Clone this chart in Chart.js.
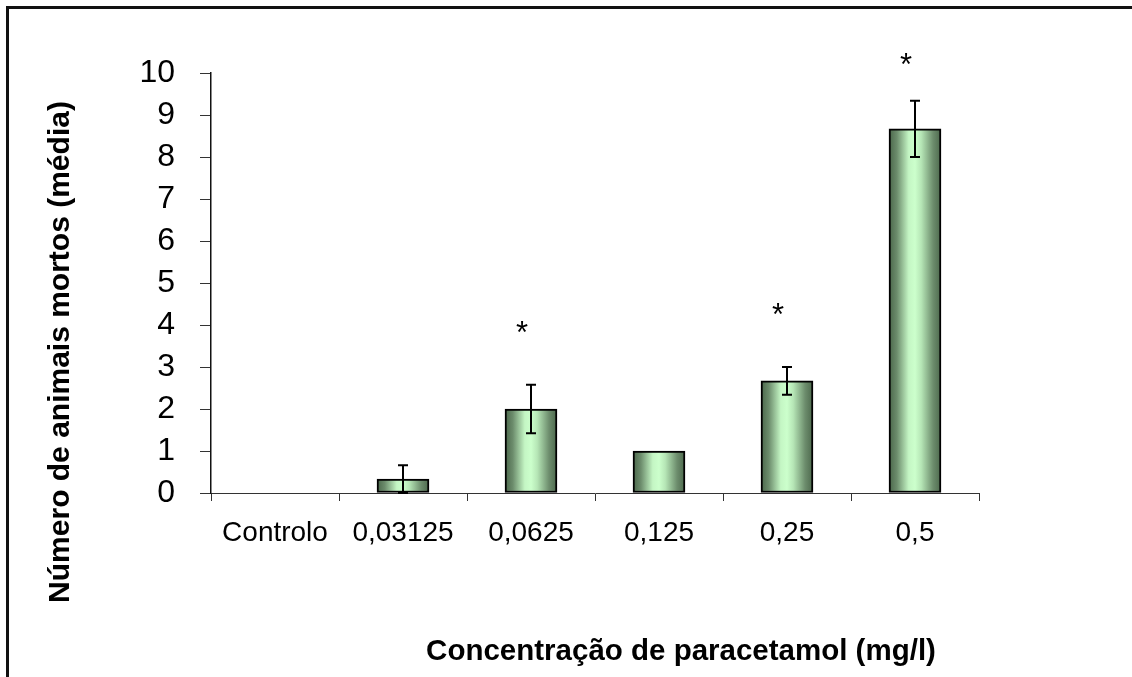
<!DOCTYPE html>
<html>
<head>
<meta charset="utf-8">
<script src="https://cdn.jsdelivr.net/npm/chart.js@4.4.1/dist/chart.umd.min.js"></script>
<style>
  html, body { margin: 0; padding: 0; background: #fff; }
  #wrap { position: relative; width: 1132px; height: 677px; overflow: hidden; }
  #frame { position: absolute; left: 6px; top: 6px; right: -10px; bottom: -10px;
           border-top: 3px solid #111; border-left: 3px solid #111; }
  #c { position: absolute; left: 0; top: 0; }
</style>
</head>
<body>
<div id="wrap">
  <div id="frame"></div>
  <canvas id="c" width="1132" height="677"></canvas>
</div>
<script>
// ---- data ----
const categories = ["Controlo", "0,03125", "0,0625", "0,125", "0,25", "0,5"];
const meanDeaths = [0, 0.33, 2, 1, 2.67, 8.67];
const errorDeaths = [0, 0.33, 0.58, 0, 0.33, 0.67];
const significance = ["", "", "*", "", "*", "*"];
const yTicks = [0, 1, 2, 3, 4, 5, 6, 7, 8, 9, 10];
const yTitle = "Número de animais mortos (média)";
const xTitle = "Concentração de paracetamol (mg/l)";

const FONT = "'Liberation Sans', Arial, sans-serif";

function barGradient(ctx) {
  const chart = ctx.chart;
  const xs = chart.scales && chart.scales.x;
  if (!xs || ctx.dataIndex === undefined) return '#a8d8a8';
  const cx = xs.getPixelForValue(ctx.dataIndex);
  if (!isFinite(cx)) return '#a8d8a8';
  const half = 26;
  const g = chart.ctx.createLinearGradient(cx - half, 0, cx + half, 0);
  g.addColorStop(0, '#4a664a');
  g.addColorStop(0.15, '#6c8c6c');
  g.addColorStop(0.38, '#c4f6c4');
  g.addColorStop(0.5, '#ccffcc');
  g.addColorStop(0.62, '#b6e6b6');
  g.addColorStop(0.85, '#6c8c6c');
  g.addColorStop(1, '#4c684c');
  return g;
}

const errorBarPlugin = {
  id: 'errorBars',
  afterDatasetsDraw(chart) {
    const {ctx, scales: {x, y}} = chart;
    ctx.save();
    ctx.strokeStyle = '#000';
    ctx.lineWidth = 2;
    meanDeaths.forEach((v, i) => {
      const e = errorDeaths[i];
      if (!e) return;
      const px = Math.round(x.getPixelForValue(i));
      const top = y.getPixelForValue(v + e);
      const bot = y.getPixelForValue(Math.max(0, v - e));
      ctx.beginPath();
      ctx.moveTo(px, top); ctx.lineTo(px, bot);
      ctx.moveTo(px - 5, top); ctx.lineTo(px + 5, top);
      ctx.moveTo(px - 5, bot); ctx.lineTo(px + 5, bot);
      ctx.stroke();
    });
    // significance marks
    ctx.fillStyle = '#000';
    ctx.font = "31px " + FONT;
    ctx.textAlign = 'center';
    ctx.textBaseline = 'alphabetic';
    significance.forEach((s, i) => {
      if (!s) return;
      const px = x.getPixelForValue(i) - 9;
      const errTop = y.getPixelForValue(meanDeaths[i] + errorDeaths[i]);
      const cy = Math.max(errTop - 55, chart.chartArea.top - 11);
      ctx.fillText(s, px, cy + 13);
    });
    ctx.restore();
  }
};

const axisTitlePlugin = {
  id: 'axisTitles',
  afterDraw(chart) {
    const {ctx} = chart;
    ctx.save();
    ctx.fillStyle = '#000';
    ctx.textAlign = 'center';
    ctx.textBaseline = 'middle';
    ctx.font = "bold 29.5px " + FONT;
    ctx.fillText(xTitle, 681, 652);
    ctx.font = "bold 30px " + FONT;
    ctx.translate(61, 352);
    ctx.rotate(-Math.PI / 2);
    ctx.fillText(yTitle, 0, 0);
    ctx.restore();
  }
};

new Chart(document.getElementById('c'), {
  type: 'bar',
  data: {
    labels: categories,
    datasets: [{
      data: meanDeaths,
      backgroundColor: barGradient,
      borderColor: '#000',
      borderWidth: 2,
      borderSkipped: false,
      barThickness: 52
    }]
  },
  options: {
    responsive: false,
    animation: false,
    events: [],
    layout: { padding: { left: 0, top: 73, right: 153, bottom: 0 } },
    plugins: { legend: { display: false }, tooltip: { enabled: false } },
    scales: {
      x: {
        grid: { display: true, drawOnChartArea: false, drawTicks: true, tickLength: 8, color: '#333', offset: true, lineWidth: 1 },
        border: { display: true, color: '#333', width: 1 },
        ticks: { color: '#000', font: { family: FONT, size: 28 }, padding: 15, maxRotation: 0, autoSkip: false },
        afterFit(s) { s.height = 184; }
      },
      y: {
        min: 0, max: 10,
        afterBuildTicks(s) { s.ticks = yTicks.map(v => ({ value: v })); },
        grid: { display: true, drawOnChartArea: false, drawTicks: true, tickLength: 11, color: '#333', lineWidth: 1 },
        border: { display: true, color: '#111', width: 1.5 },
        ticks: { color: '#000', font: { family: FONT, size: 32 }, padding: 25, autoSkip: false },
        afterFit(s) { s.width = 211; }
      }
    }
  },
  plugins: [errorBarPlugin, axisTitlePlugin]
});
</script>
</body>
</html>
